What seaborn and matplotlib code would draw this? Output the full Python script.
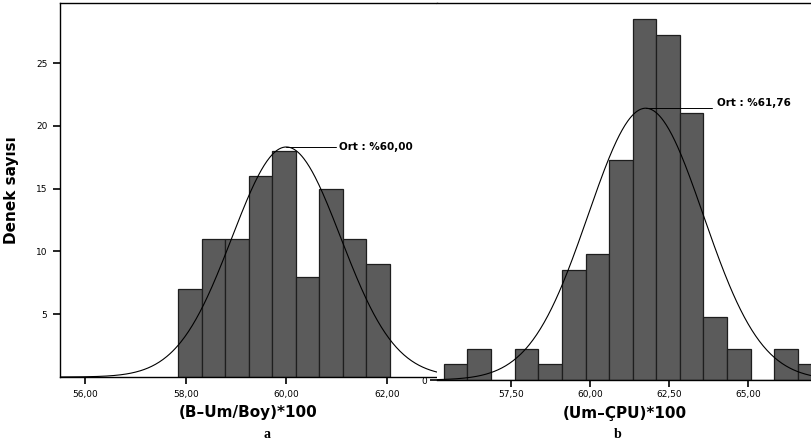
import numpy as np
import pandas as pd
import matplotlib
matplotlib.use('Agg')
import matplotlib.pyplot as plt
import seaborn as sns

# panel a : (B-Um/Boy)*100
edges_a = [57.85, 58.32, 58.79, 59.25, 59.72, 60.19, 60.65, 61.12, 61.59, 62.06]
counts_a = [7, 11, 11, 16, 18, 8, 15, 11, 9]
mean_a, sd_a = 60.00, 1.08
xticks_a = [56, 58, 60, 62]
xticklabels_a = ['56,00', '58,00', '60,00', '62,00']
yticks_a = [5, 10, 15, 20, 25]

# panel b : (Um-CPU)*100
edges_b = [55.39, 56.13, 56.88, 57.62, 58.37, 59.11, 59.86, 60.60, 61.35, 62.09,
           62.84, 63.58, 64.33, 65.07, 65.82, 66.56, 67.31]
counts_b = [1, 2, 0, 2, 1, 7, 8, 14, 23, 22, 17, 4, 2, 0, 2, 1]
mean_b, sd_b = 61.76, 1.82
xticks_b = [57.5, 60, 62.5, 65]
xticklabels_b = ['57,50', '60,00', '62,50', '65,00']

sns.set_style('white')
plt.rcParams['font.family'] = ['DejaVu Sans']
plt.rcParams['text.color'] = 'black'
plt.rcParams['axes.labelcolor'] = 'black'
plt.rcParams['xtick.color'] = 'black'
plt.rcParams['ytick.color'] = 'black'

bar_col = '#5b5b5b'
edge_col = '#1e1e1e'

fig = plt.figure(figsize=(8.12, 4.44), dpi=100)
ax1 = fig.add_axes([60/812, 67/444, 377/812, 374/444])
ax2 = fig.add_axes([437/812, 64/444, 375/812, 377/444])


def panel(ax, edges, counts, mean, sd, xlim, ylim):
	e = np.array(edges)
	centers = (e[:-1] + e[1:]) / 2
	df = pd.DataFrame({'x': centers, 'n': counts})
	sns.histplot(data=df, x='x', weights='n', bins=list(edges), ax=ax, color=bar_col,
				 edgecolor=edge_col, linewidth=0.9, alpha=1)
	w = np.mean(np.diff(e))
	xs = np.linspace(xlim[0], xlim[1], 400)
	peak = sum(counts) * w / (sd * np.sqrt(2 * np.pi))
	ys = peak * np.exp(-0.5 * ((xs - mean) / sd) ** 2)
	ax.plot(xs, ys, color='black', lw=0.8)
	ax.set_xlim(xlim)
	ax.set_ylim(ylim)
	return peak


peak_a = panel(ax1, edges_a, counts_a, mean_a, sd_a, (55.503, 62.994), (0, 29.78))
peak_b = panel(ax2, edges_b, counts_b, mean_b, sd_b, (55.17, 67.01), (0, 24.01))

# left panel
ax1.set_xticks(xticks_a)
ax1.set_xticklabels(xticklabels_a)
ax1.set_yticks(yticks_a)
ax1.tick_params(axis='both', which='major', labelsize=6.5, length=5, width=1.2,
				direction='out', bottom=True, left=True, pad=4, colors='black')
for s in ['left', 'top', 'bottom']:
	ax1.spines[s].set_linewidth(1.0)
	ax1.spines[s].set_color('black')
ax1.spines['right'].set_visible(False)
ax1.set_xlabel('(B\u2013Um/Boy)*100', size=11, weight='bold', labelpad=5, color='black')
ax1.set_ylabel('Denek say\u0131s\u0131', size=11, weight='bold', labelpad=12, color='black')
ax1.plot([mean_a, 60.98], [peak_a, peak_a], color='black', lw=0.7)
ax1.text(61.05, peak_a, 'Ort : %60,00', size=7.5, weight='bold', va='center', color='black')

# right panel
ax2.set_xticks(xticks_b)
ax2.set_xticklabels(xticklabels_b)
ax2.set_yticks([0])
ax2.set_yticklabels(['0'])
ax2.tick_params(axis='both', which='major', labelsize=6.5, length=5, width=1.2,
				direction='out', bottom=True, left=True, pad=2, colors='black')
ax2.spines['left'].set_visible(False)
ax2.spines['right'].set_visible(False)
for s in ['top', 'bottom']:
	ax2.spines[s].set_linewidth(1.0)
	ax2.spines[s].set_color('black')
ax2.set_xlabel('(Um\u2013\u00c7PU)*100', size=11, weight='bold', labelpad=5, color='black')
ax2.set_ylabel('')
ax2.plot([mean_b, 63.85], [peak_b, peak_b], color='black', lw=0.7)
ax2.text(64.0, peak_b + 0.35, 'Ort : %61,76', size=7.5, weight='bold', va='center', color='black')

fig.text(267/812, 1 - 434/444, 'a', family='Liberation Serif', weight='bold', size=10, ha='center', va='center')
fig.text(618/812, 1 - 434/444, 'b', family='Liberation Serif', weight='bold', size=10, ha='center', va='center')

plt.savefig('out.png', dpi=100)
